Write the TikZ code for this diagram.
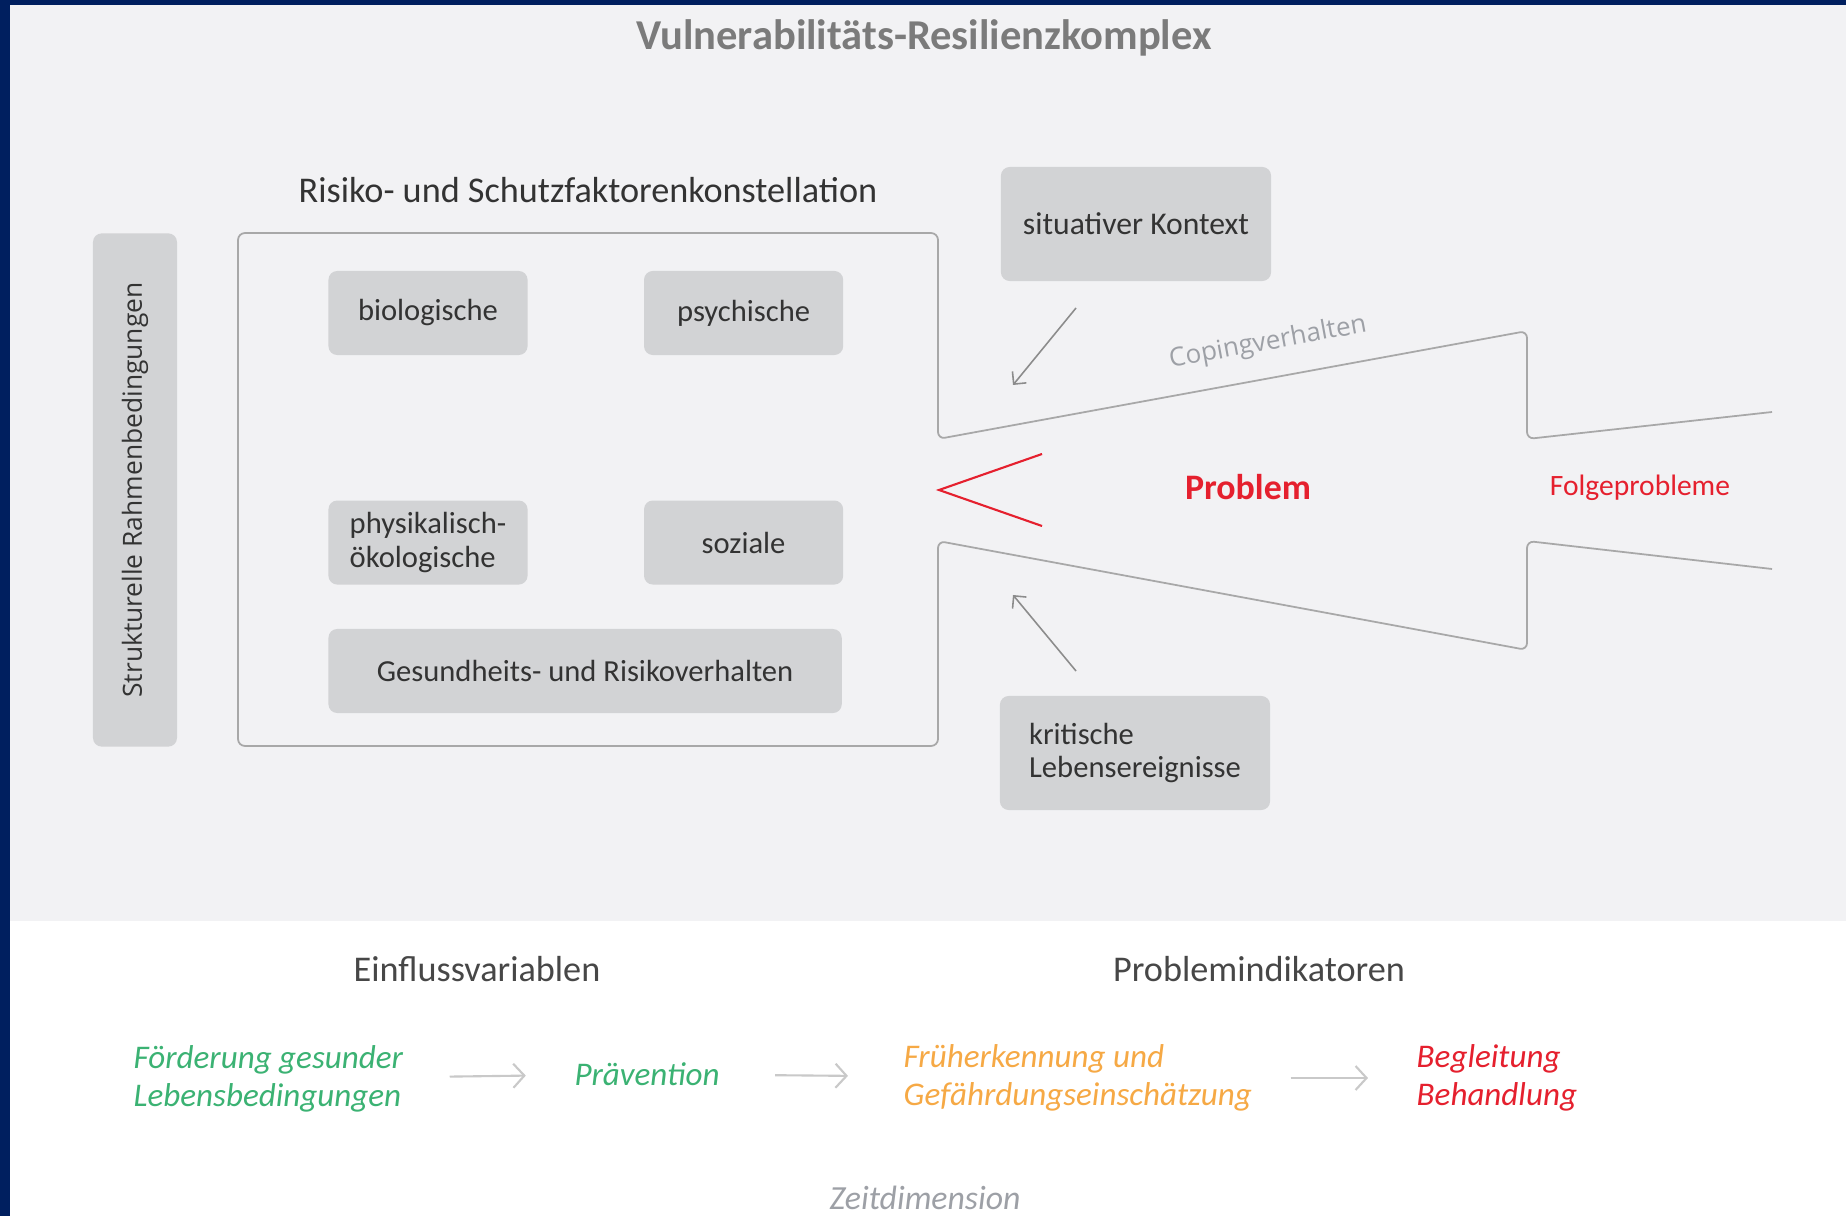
\documentclass[tikz,border=0pt]{standalone}
\usepackage{fontspec}
\setmainfont{Carlito}
\newfontfamily\opensans{Open Sans}
\usepackage{xcolor}
\usetikzlibrary{arrows.meta}
\usetikzlibrary{positioning}

\definecolor{navy}{HTML}{001F5F}
\definecolor{panel}{HTML}{F2F2F4}
\definecolor{boxgray}{HTML}{D2D3D5}
\definecolor{linegray}{HTML}{A8A8A8}
\definecolor{titlegray}{HTML}{7B7B7B}
\definecolor{textdark}{HTML}{333333}
\definecolor{problemred}{HTML}{E5202E}
\definecolor{praevgreen}{HTML}{3BB273}
\definecolor{fruehorange}{HTML}{F6A945}
\definecolor{lightarrow}{HTML}{C9C9C9}
\definecolor{arrowgray}{HTML}{8C8C8C}
\definecolor{copinggray}{HTML}{9DA0A6}

\begin{document}
\begin{tikzpicture}[x=0.01cm, y=-0.01cm,
    factor/.style = {rectangle, rounded corners=2.5pt, fill=boxgray, text=textdark,
                     minimum width=1.99cm, minimum height=0.84cm, align=center,
                     font=\fontsize{8.7}{9.6}\selectfont},
    context/.style = {factor, minimum width=2.7cm, minimum height=1.14cm},
    heading/.style = {text=textdark, font=\fontsize{10.3}{12}\selectfont},
    flowtext/.style = {inner sep=0pt, align=left, font=\itshape\fontsize{9.4}{11}\selectfont},
    frame/.style = {draw=linegray, line width=0.5pt, rounded corners=2pt},
    pointer/.style = {->, >={Straight Barb[length=0.9mm,width=1.8mm]}, draw=arrowgray, line width=0.45pt},
    flowarrow/.style = {->, >={Straight Barb[length=1.1mm,width=2.4mm]}, draw=lightarrow, line width=0.6pt}]
  \useasboundingbox (0,0) rectangle (1846,1216);
  % background
  \fill[navy] (0,0) rectangle (1846,1216);
  \fill[panel] (10,5) rectangle (1846,921);
  \fill[white] (10,921) rectangle (1846,1216);

  \node (titel) [text=titlegray, font=\bfseries\fontsize{12.1}{14}\selectfont] at (924,38)
    {Vulnerabilitäts-Resilienzkomplex};
  \node (konst) [heading] at (588,190) {Risiko- und Schutzfaktorenkonstellation};

  % factor boxes
  \node (rahmen) [factor, rotate=90, minimum width=5.13cm, minimum height=0.84cm,
                  font=\opensans\fontsize{7.5}{9}\selectfont] at (135,490) {Strukturelle Rahmenbedingungen};
  \node (bio) [factor] at (428,313) {biologische};
  \node (psych) [factor, right=1.15cm of bio] {psychische};
  \node (phys) [factor, below=1.44cm of bio, align=left] {physikalisch-\\ökologische};
  \node (sozial) [factor, right=1.15cm of phys] {soziale};
  \node (gesund) [factor, below=0.43cm of phys.south west, anchor=north west,
                  minimum width=5.13cm] {Gesundheits- und Risikoverhalten};

  \node (situ) [context, font=\fontsize{9}{10}\selectfont] at (1136,224) {situativer Kontext};
  \node (krit) [context, align=left] at (1135,753) {kritische\\Lebensereignisse};

  % frame and problem arrow
  \draw[frame] (1772,412) -- (1527,439) -- (1527,331) -- (938,439) -- (938,233)
    -- (238,233) -- (238,746) -- (938,746) -- (938,541) -- (1527,650) -- (1527,541) -- (1772,569);
  \draw[problemred, line width=0.6pt] (1042,454) -- (939,490) -- (1042,526);

  \node (coping) [text=copinggray, rotate=10.4, font=\opensans\fontsize{7.4}{9}\selectfont]
    at (1268,343) {Copingverhalten};
  \node (problem) [text=problemred, font=\bfseries\fontsize{10.2}{12}\selectfont] at (1248,487) {Problem};
  \node (folge) [text=problemred, font=\fontsize{8.4}{10}\selectfont] at (1640,488) {Folgeprobleme};

  \coordinate (situfrom) at (1076,308);
  \coordinate (situto) at (1013,385);
  \coordinate (kritfrom) at (1076,671);
  \coordinate (kritto) at (1013,595);
  \draw[pointer] (situfrom) -- (situto);
  \draw[pointer] (kritfrom) -- (kritto);

  % time line
  \node (einfluss) [heading, text=textdark!90] at (477,969) {Einflussvariablen};
  \node (indik) [heading, text=textdark!90] at (1259,969) {Problemindikatoren};

  \node (foerd) [flowtext, text=praevgreen, anchor=west] at (133,1079) {Förderung gesunder\\Lebensbedingungen};
  \node (praev) [flowtext, text=praevgreen] at (647,1074) {Prävention};
  \node (frueh) [flowtext, text=fruehorange, anchor=west] at (903,1078) {Früherkennung und\\Gefährdungseinschätzung};
  \node (begl) [flowtext, text=problemred, anchor=west] at (1416,1078) {Begleitung\\Behandlung};

  \path[flowarrow]
    (foerd) edge[shorten <=0.46cm, shorten >=0.48cm] (praev)
    (praev) edge[shorten <=0.55cm, shorten >=0.55cm] (frueh)
    (frueh) edge[shorten <=0.38cm, shorten >=0.48cm] (begl);

  \node (zeit) [text=copinggray, inner sep=0pt, font=\itshape\fontsize{9.6}{11}\selectfont, anchor=base]
    at (925,1209) {Zeitdimension};
\end{tikzpicture}
\end{document}
